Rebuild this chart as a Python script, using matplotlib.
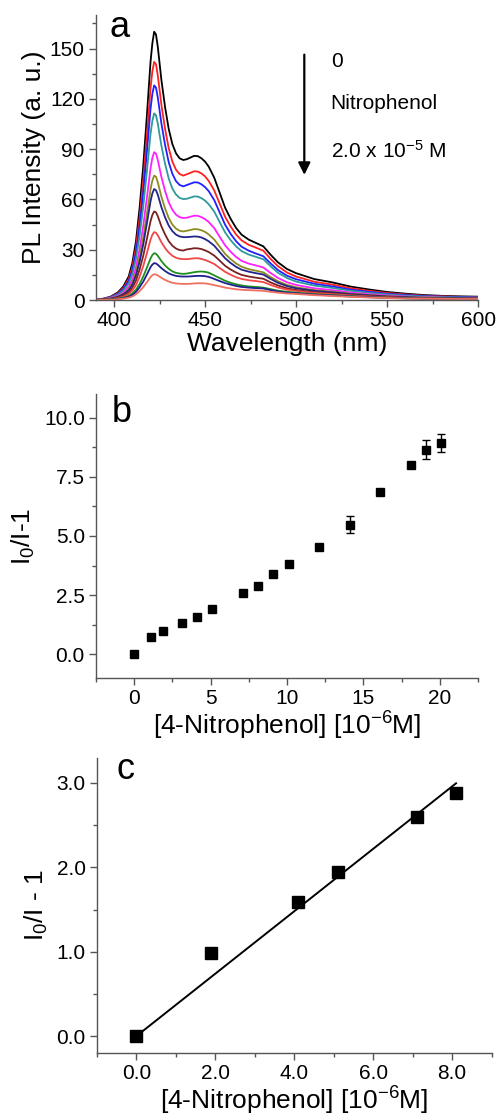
import numpy as np
import matplotlib
matplotlib.use('Agg')
import matplotlib.pyplot as plt
from matplotlib.ticker import MultipleLocator, FormatStrFormatter

plt.rcParams['font.family'] = ['Liberation Sans', 'DejaVu Sans']
plt.rcParams['mathtext.fontset'] = 'custom'
plt.rcParams['mathtext.rm'] = 'Liberation Sans'
plt.rcParams['mathtext.it'] = 'Liberation Sans'

# PL spectra, quenched by increasing 4-nitrophenol (0 -> 2.0e-5 M)
wavelength = [390, 394, 398, 402, 405, 408, 410, 412, 414, 416, 418, 420, 421, 422, 423,
              424, 426, 428, 430, 432, 434, 436, 438,
              440, 442, 444, 446, 448, 450, 452,
              455, 458, 461, 464, 467, 470, 474, 478, 482,
              486, 490, 495, 500,
              510, 520, 530, 540, 550, 560, 570, 580, 590, 600]
pl_0 = [0.3, 0.8, 2, 4.5, 8, 14, 22, 35, 55, 80, 110, 142, 153, 160, 158.4,
        151, 131, 115, 102, 93, 87.5, 84.5, 83.5,
        84, 85, 86, 85.8, 84.5, 82.5, 79.5,
        73, 64, 55, 48.5, 43, 39, 36, 34, 32,
        27, 22.5, 18.5, 16,
        12.5, 10.5, 8, 6.3, 4.8, 3.8, 3, 2.5, 2.2, 2]
pl_1 = [0.3, 0.7, 1.8, 4.0, 7.1, 12.5, 19.6, 31.2, 48.8, 71, 98, 126.4, 136.3, 142, 140.6,
        133.9, 116.2, 102, 90.5, 82.6, 77.7, 75.1, 74.2,
        75.0, 75.9, 76.8, 76.6, 75.5, 73.7, 71.0,
        65.4, 57.5, 49.6, 43.9, 39.1, 35.6, 32.9, 31.2, 29.4,
        24.5, 20.2, 16.4, 14,
        10.9, 9.2, 7, 5.5, 4.2, 3.3, 2.6, 2.2, 1.9, 1.8]
pl_2 = [0.26, 0.64, 1.6, 3.6, 6.4, 11.3, 17.7, 28.2, 44, 64, 88.3, 113.9, 122.9, 128, 126.7,
        120.8, 105.1, 92.5, 82.2, 75.3, 70.9, 68.6, 67.8,
        68.6, 69.4, 70.2, 70.1, 69.0, 67.3, 64.9,
        59.6, 52.2, 44.9, 39.5, 35.1, 31.8, 29.4, 27.7, 26.1,
        21.8, 17.9, 14.5, 12.4,
        9.7, 8.1, 6.2, 4.9, 3.7, 3.0, 2.4, 2.0, 1.8, 1.6]
pl_3 = [0.22, 0.56, 1.4, 3.1, 5.6, 9.8, 15.4, 24.5, 38.3, 55.7, 76.8, 99.1, 106.8, 111.3, 110.2,
        105.2, 91.9, 81.2, 72.5, 66.5, 62.9, 60.9, 60.2,
        60.4, 61.1, 61.8, 61.7, 60.7, 59.3, 57.1,
        52.8, 46.5, 40.3, 35.7, 32, 29.2, 27.1, 25.7, 24.3,
        20.1, 16.3, 13.1, 11,
        8.6, 7.2, 5.5, 4.3, 3.3, 2.6, 2.1, 1.7, 1.5, 1.4]
pl_4 = [0.18, 0.44, 1.1, 2.5, 4.4, 7.8, 12.2, 19.4, 30.3, 44.1, 60.9, 78.5, 84.7, 88.2, 87.3,
        83.5, 73.3, 65, 58.3, 53.8, 50.9, 49.4, 48.9,
        49.1, 49.7, 50.3, 50.2, 49.4, 48.2, 46.5,
        42.9, 37.7, 32.6, 28.8, 25.7, 23.4, 21.7, 20.6, 19.4,
        16.1, 13.2, 10.6, 9,
        7.0, 5.9, 4.5, 3.5, 2.7, 2.1, 1.7, 1.4, 1.3, 1.2]
pl_5 = [0.15, 0.37, 0.9, 2.1, 3.7, 6.5, 10.2, 16.3, 25.5, 37.1, 51.2, 66, 71.2, 74.2, 73.5,
        70.2, 61.5, 54.6, 48.9, 45, 42.6, 41.3, 40.9,
        41.3, 41.8, 42.3, 42.2, 41.6, 40.6, 39.1,
        36.1, 31.8, 27.5, 24.4, 21.8, 19.9, 18.4, 17.5, 16.5,
        13.7, 11.2, 9, 7.6,
        5.9, 5.0, 3.8, 3.0, 2.3, 1.8, 1.5, 1.3, 1.2, 1.1]
pl_6 = [0.13, 0.33, 0.8, 1.9, 3.3, 5.8, 9.1, 14.6, 22.8, 33.1, 45.7, 58.9, 63.6, 66.2, 65.5,
        62.8, 55.3, 49.3, 44.4, 41.1, 39, 37.9, 37.5,
        37.5, 37.7, 37.9, 37.8, 37.3, 36.3, 35.0,
        32.4, 28.6, 24.9, 22.1, 19.8, 18.1, 16.9, 16.0, 15.2,
        12.6, 10.3, 8.3, 7,
        5.5, 4.6, 3.5, 2.8, 2.1, 1.7, 1.3, 1.1, 1.0, 0.9]
pl_7 = [0.11, 0.26, 0.66, 1.5, 2.6, 4.6, 7.3, 11.6, 18.2, 26.4, 36.4, 47, 50.7, 52.8, 52.3,
        50, 43.9, 39.1, 35.1, 32.4, 30.7, 29.8, 29.5,
        30.2, 30.5, 30.9, 30.8, 30.4, 29.6, 28.6,
        26.5, 23.5, 20.4, 18.2, 16.4, 15, 14, 13.3, 12.7,
        10.5, 8.7, 7, 6,
        4.7, 3.9, 3, 2.4, 1.8, 1.4, 1.1, 0.9, 0.8, 0.8]
pl_8 = [0.08, 0.2, 0.5, 1.1, 2, 3.6, 5.6, 8.9, 13.9, 20.3, 27.9, 36, 38.9, 40.5, 40.1,
        38.6, 34.4, 31, 28.3, 26.4, 25.2, 24.6, 24.4,
        24.4, 24.6, 24.9, 24.9, 24.5, 23.9, 23.0,
        21.5, 19.1, 16.8, 15.1, 13.6, 12.6, 11.8, 11.3, 10.7,
        9, 7.5, 6.2, 5.4,
        4.2, 3.5, 2.7, 2.1, 1.6, 1.3, 1.0, 0.8, 0.7, 0.7]
pl_9 = [0.06, 0.14, 0.35, 0.8, 1.4, 2.5, 3.9, 6.1, 9.6, 14, 19.3, 24.8, 26.8, 27.9, 27.6,
        26.4, 23.2, 20.6, 18.6, 17.1, 16.2, 15.8, 15.6,
        15.8, 16.2, 16.6, 16.9, 17, 16.8, 16.3,
        14.7, 13.1, 11.5, 10.3, 9.4, 8.7, 8.1, 7.8, 7.4,
        6.5, 5.6, 4.9, 4.4,
        3.5, 2.9, 2.3, 1.8, 1.4, 1.1, 0.9, 0.8, 0.7, 0.6]
pl_10 = [0.04, 0.11, 0.28, 0.6, 1.1, 1.9, 3, 4.8, 7.6, 11, 15.2, 19.6, 21.1, 22, 21.8,
         21, 19, 17.3, 15.9, 15, 14.4, 14.1, 14,
         14.0, 14.1, 14.3, 14.4, 14.4, 14.2, 13.8,
         12.6, 11.3, 10.1, 9.2, 8.4, 7.8, 7.4, 7.1, 6.9,
         5.9, 5.1, 4.4, 4,
         3.2, 2.7, 2.1, 1.7, 1.3, 1.0, 0.8, 0.7, 0.6, 0.6]
pl_11 = [0.03, 0.08, 0.19, 0.43, 0.8, 1.4, 2.1, 3.4, 5.3, 7.7, 10.6, 13.7, 14.8, 15.4, 15.2,
         14.7, 13.2, 12, 11, 10.3, 9.9, 9.7, 9.6,
         9.6, 9.7, 9.9, 10, 10, 9.9, 9.6,
         8.9, 8.2, 7.4, 6.9, 6.4, 6.1, 5.9, 5.7, 5.5,
         4.9, 4.4, 3.9, 3.6,
         2.9, 2.4, 1.9, 1.5, 1.2, 0.9, 0.8, 0.7, 0.6, 0.6]
spectra = [pl_0, pl_1, pl_2, pl_3, pl_4, pl_5, pl_6, pl_7, pl_8, pl_9, pl_10, pl_11]
colors = ['#000000', '#FF2020', '#2020FF', '#2E9A9A', '#FF20FF', '#8C8C20',
          '#23238C', '#7A2020', '#F04848', '#1F8F1F', '#202090', '#F07060']

# Stern-Volmer, full range
conc_b = [0, 1.1, 1.9, 3.1, 4.1, 5.1, 7.1, 8.1, 9.1, 10.1, 12.1, 14.1, 16.1, 18.1, 19.1, 20.1]
sv_b = [0, 0.73, 0.98, 1.33, 1.57, 1.91, 2.58, 2.87, 3.40, 3.81, 4.55, 5.48, 6.85, 7.99, 8.65, 8.93]
err_b = [0.05, 0.06, 0.06, 0.06, 0.06, 0.06, 0.07, 0.07, 0.07, 0.08, 0.08, 0.36, 0.12, 0.12, 0.40, 0.39]

# Stern-Volmer, linear range
conc_c = [0, 1.9, 4.1, 5.1, 7.1, 8.1]
sv_c = [0, 0.99, 1.59, 1.94, 2.60, 2.88]

fig = plt.figure(figsize=(4.97, 11.17), dpi=100)
ax1 = fig.add_axes([0.193, 0.7314, 0.769, 0.2552])
ax2 = fig.add_axes([0.193, 0.393, 0.769, 0.2543])
ax3 = fig.add_axes([0.195, 0.0573, 0.794, 0.2644])


def style(ax):
    for s in ['top', 'right']:
        ax.spines[s].set_visible(False)
    for s in ['left', 'bottom']:
        ax.spines[s].set_color('#555555')
        ax.spines[s].set_linewidth(1.0)
    ax.tick_params(which='major', direction='out', length=5, width=1, color='#555555',
                   labelsize=15, pad=3)
    ax.tick_params(which='minor', direction='out', length=3, width=1, color='#555555')


# a: spectra
for y, c in zip(spectra, colors):
    ax1.plot(wavelength, y, color=c, lw=1.3, solid_joinstyle='round')
ax1.set_xlim(390, 600)
ax1.set_ylim(0, 170)
ax1.xaxis.set_major_locator(MultipleLocator(50))
ax1.xaxis.set_minor_locator(MultipleLocator(25))
ax1.yaxis.set_major_locator(MultipleLocator(30))
ax1.yaxis.set_minor_locator(MultipleLocator(15))
style(ax1)
ax1.set_xlabel('Wavelength (nm)', fontsize=19, labelpad=1)
ax1.set_ylabel('PL Intensity (a. u.)', fontsize=19, labelpad=3)
ax1.text(0.035, 0.924, 'a', transform=ax1.transAxes, fontsize=26, ha='left', va='baseline')
ax1.annotate('', xy=(504.5, 73), xytext=(504.5, 148),
             arrowprops=dict(arrowstyle='-|>', color='black', lw=1.6, mutation_scale=18))
ax1.text(519, 142, '0', fontsize=15, va='center', ha='left')
ax1.text(519, 117.5, 'Nitrophenol', fontsize=15, va='center', ha='left')
ax1.text(519, 89, r'2.0 x 10$^{-5}$ M', fontsize=15, va='center', ha='left')

# b: full concentration range
ax2.errorbar(conc_b, sv_b, yerr=err_b, fmt='s', color='black', ms=6.2, capsize=3,
             elinewidth=1, capthick=1)
ax2.set_xlim(-2.5, 22.5)
ax2.set_ylim(-1, 11)
ax2.xaxis.set_major_locator(MultipleLocator(5))
ax2.xaxis.set_minor_locator(MultipleLocator(2.5))
ax2.yaxis.set_major_locator(MultipleLocator(2.5))
ax2.yaxis.set_minor_locator(MultipleLocator(1.25))
ax2.yaxis.set_major_formatter(FormatStrFormatter('%.1f'))
style(ax2)
ax2.set_xlabel(r'[4-Nitrophenol] [10$^{-6}$M]', fontsize=19, labelpad=1)
ax2.set_ylabel(r'I$_0$/I-1', fontsize=19, labelpad=5)
ax2.text(0.042, 0.902, 'b', transform=ax2.transAxes, fontsize=26, ha='left', va='baseline')

# c: linear range with fit through the origin
xc = np.array(conc_c)
yc = np.array(sv_c)
slope = np.sum(xc * yc) / np.sum(xc * xc)
xfit = np.array([xc.min(), xc.max()])
ax3.plot(xfit, slope * xfit, color='black', lw=1.4)
ax3.plot(xc, yc, 's', color='black', ms=8.5)
ax3.set_xlim(-1, 9)
ax3.set_ylim(-0.2, 3.3)
ax3.xaxis.set_major_locator(MultipleLocator(2))
ax3.xaxis.set_minor_locator(MultipleLocator(1))
ax3.yaxis.set_major_locator(MultipleLocator(1))
ax3.yaxis.set_minor_locator(MultipleLocator(0.5))
ax3.xaxis.set_major_formatter(FormatStrFormatter('%.1f'))
ax3.yaxis.set_major_formatter(FormatStrFormatter('%.1f'))
style(ax3)
ax3.set_xlabel(r'[4-Nitrophenol] [10$^{-6}$M]', fontsize=19, labelpad=1)
ax3.set_ylabel(r'I$_0$/I - 1', fontsize=19, labelpad=5)
ax3.text(0.05, 0.928, 'c', transform=ax3.transAxes, fontsize=26, ha='left', va='baseline')

fig.savefig('out.png', dpi=100)
